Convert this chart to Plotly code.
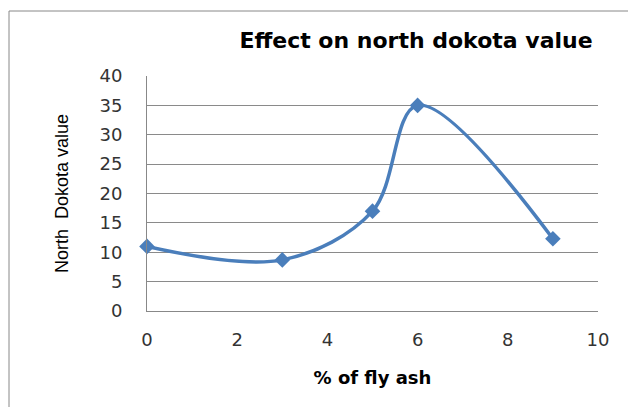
import plotly.graph_objects as go

fly_ash = [0, 3, 5, 6, 9]
nd_value = [11, 8.7, 17, 35, 12.3]
x_ticks = [0, 2, 4, 6, 8, 10]
y_ticks = [0, 5, 10, 15, 20, 25, 30, 35, 40]

fig = go.Figure()
fig.add_trace(go.Scatter(
    x=fly_ash, y=nd_value, mode="lines+markers",
    line=dict(color="#4a7ebb", width=3.5, shape="spline", smoothing=1.0),
    marker=dict(symbol="diamond", size=12, color="#4a7ebb"),
    showlegend=False, cliponaxis=False,
))

tickfont = dict(family="DejaVu Sans", size=18, color="#333333")

fig.update_layout(
    width=628, height=407,
    margin=dict(l=147, r=30, t=76, b=96, autoexpand=False),
    paper_bgcolor="white", plot_bgcolor="white",
    title=dict(text="<b>Effect on north dokota value</b>",
               font=dict(family="DejaVu Sans", size=22, color="black"),
               x=416/628, xanchor="center", y=1-40/407, yanchor="middle"),
    xaxis=dict(range=[0, 10], tickvals=x_ticks, showgrid=False, zeroline=False,
               showline=True, linecolor="#888888", linewidth=1,
               tickfont=tickfont, ticks="", ticklabelstandoff=12,
               title=dict(text="<b>% of fly ash</b>", standoff=22,
                          font=dict(family="DejaVu Sans", size=18, color="black"))),
    yaxis=dict(range=[0, 40], tickvals=y_ticks, showgrid=True, gridcolor="#8a8a8a",
               gridwidth=1, zeroline=False, showline=True, linecolor="#888888",
               linewidth=1, ticks="", ticklabelstandoff=20,
               tickfont=tickfont,
               title=dict(text="North  Dokota value", standoff=26,
                          font=dict(family="Liberation Sans Narrow, Liberation Sans", size=18, color="black"))),
    shapes=[dict(type="rect", xref="paper", yref="paper",
                 x0=(9-147)/451, x1=1.2, y0=-0.6, y1=1+(76-11)/235,
                 line=dict(color="#888888", width=1), fillcolor="rgba(0,0,0,0)", layer="below")],
)

fig.write_html("out.html", config={"displayModeBar": False},
               post_script="document.body.style.margin='0';")
